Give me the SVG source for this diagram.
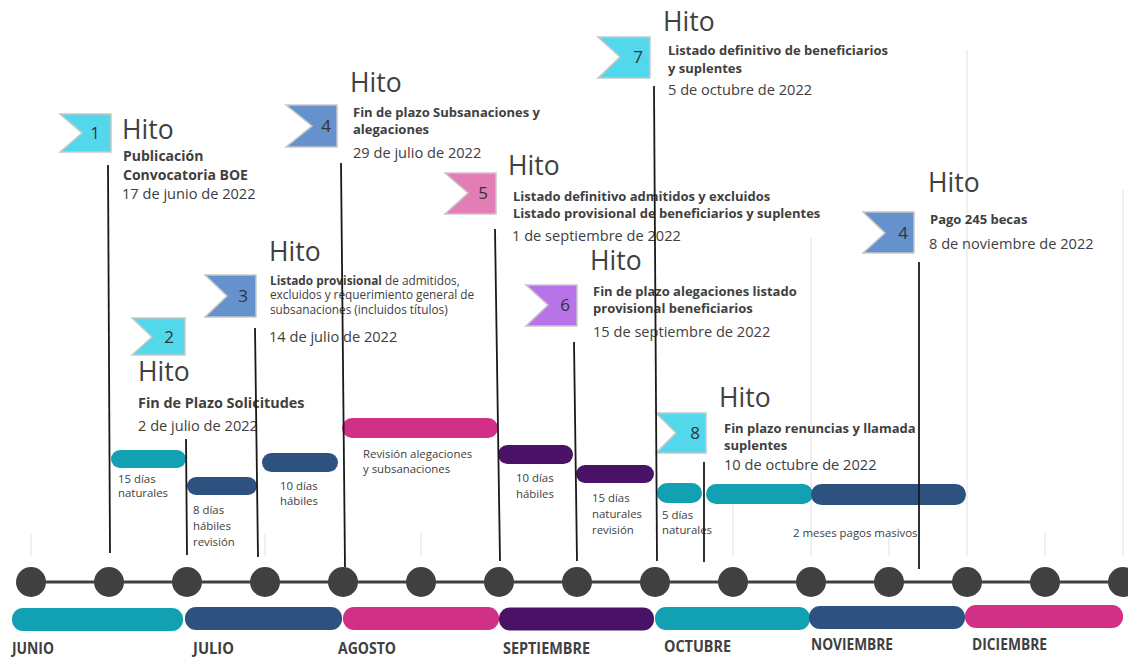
<svg xmlns="http://www.w3.org/2000/svg" width="1128" height="658" viewBox="0 0 1128 658">
<style>
text{font-family:"Open Sans","Liberation Sans",sans-serif;fill:#404040}
.hito{font-size:26.5px}
.tt{font-size:13px;font-weight:bold}
.dt{font-size:14.6px}
.num{font-size:17px;text-anchor:middle;fill:#333}
.dsc{font-size:11.8px}
.dur{font-size:11.4px}
.mon{font-size:16px;font-weight:bold}
.flag{stroke:#c8c8c8;stroke-width:1.5}
.cyan{fill:#53d8eb}.blue{fill:#6591cd}.pink{fill:#e27db6}.lav{fill:#b873e8}
.teal{fill:#12a1b3}.navy{fill:#2d5280}.mag{fill:#d22f87}.purp{fill:#4a1267}
.grid{stroke:#e6e6e6;stroke-width:1.2}
.conn{stroke:#1a1a1a;stroke-width:1.8}
.dot{fill:#404040}
</style>
<g id="grid">
<line class="grid" x1="31" y1="533" x2="31" y2="556"/>
<line class="grid" x1="265" y1="533" x2="265" y2="556"/>
<line class="grid" x1="421" y1="533" x2="421" y2="556"/>
<line class="grid" x1="733" y1="505" x2="733" y2="556"/>
<line class="grid" x1="811" y1="238" x2="811" y2="556"/>
<line class="grid" x1="889" y1="533" x2="889" y2="556"/>
<line class="grid" x1="967" y1="50" x2="967" y2="556"/>
<line class="grid" x1="1045" y1="533" x2="1045" y2="556"/>
<line class="grid" x1="1123" y1="190" x2="1123" y2="556"/>
</g>
<g id="timeline">
<line x1="31" y1="582" x2="1128" y2="582" stroke="#404040" stroke-width="3"/>
<circle class="dot" cx="31" cy="582" r="15"/>
<circle class="dot" cx="109" cy="582" r="15"/>
<circle class="dot" cx="187" cy="582" r="15"/>
<circle class="dot" cx="265" cy="582" r="15"/>
<circle class="dot" cx="343" cy="582" r="15"/>
<circle class="dot" cx="421" cy="582" r="15"/>
<circle class="dot" cx="499" cy="582" r="15"/>
<circle class="dot" cx="577" cy="582" r="15"/>
<circle class="dot" cx="655" cy="582" r="15"/>
<circle class="dot" cx="733" cy="582" r="15"/>
<circle class="dot" cx="811" cy="582" r="15"/>
<circle class="dot" cx="889" cy="582" r="15"/>
<circle class="dot" cx="967" cy="582" r="15"/>
<circle class="dot" cx="1045" cy="582" r="15"/>
<circle class="dot" cx="1123" cy="582" r="15"/>
</g>
<g id="months">
<rect class="teal" x="12" y="608" width="171" height="23" rx="11"/>
<rect class="navy" x="185" y="607" width="157" height="23" rx="11"/>
<rect class="mag" x="343" y="607" width="156" height="23" rx="11"/>
<rect class="purp" x="499" y="607.5" width="155" height="23" rx="11"/>
<rect class="teal" x="655" y="607" width="155" height="23" rx="11"/>
<rect class="navy" x="809" y="606" width="156" height="23" rx="11"/>
<rect class="mag" x="965" y="605" width="158" height="23" rx="11"/>
<text class="mon" x="12" y="654" textLength="42" lengthAdjust="spacingAndGlyphs">JUNIO</text>
<text class="mon" x="193" y="654" textLength="41" lengthAdjust="spacingAndGlyphs">JULIO</text>
<text class="mon" x="338" y="654" textLength="58" lengthAdjust="spacingAndGlyphs">AGOSTO</text>
<text class="mon" x="503" y="654" textLength="87" lengthAdjust="spacingAndGlyphs">SEPTIEMBRE</text>
<text class="mon" x="664" y="652" textLength="67" lengthAdjust="spacingAndGlyphs">OCTUBRE</text>
<text class="mon" x="811" y="650" textLength="82" lengthAdjust="spacingAndGlyphs">NOVIEMBRE</text>
<text class="mon" x="972" y="650" textLength="75" lengthAdjust="spacingAndGlyphs">DICIEMBRE</text>
</g>
<g id="durations">
<rect class="teal" x="111" y="450" width="75" height="18" rx="9"/>
<text class="dur" x="118" y="483">15 días</text>
<text class="dur" x="118" y="497">naturales</text>
<rect class="navy" x="187" y="477" width="70" height="18" rx="9"/>
<text class="dur" x="193" y="514">8 días</text>
<text class="dur" x="193" y="530">hábiles</text>
<text class="dur" x="193" y="546">revisión</text>
<rect class="navy" x="262" y="453" width="76" height="19" rx="9.5"/>
<text class="dur" x="280" y="490">10 días</text>
<text class="dur" x="280" y="505">hábiles</text>
<rect class="mag" x="342" y="418" width="156" height="20" rx="10"/>
<text class="dur" x="363" y="458">Revisión alegaciones</text>
<text class="dur" x="363" y="473">y subsanaciones</text>
<rect class="purp" x="498" y="445" width="75" height="19" rx="9.5"/>
<text class="dur" x="516" y="482">10 días</text>
<text class="dur" x="516" y="498">hábiles</text>
<rect class="purp" x="576" y="465" width="78" height="18" rx="9"/>
<text class="dur" x="592" y="502">15 días</text>
<text class="dur" x="592" y="518">naturales</text>
<text class="dur" x="592" y="534">revisión</text>
<rect class="teal" x="657" y="483" width="45" height="20" rx="10"/>
<text class="dur" x="662" y="519">5 días</text>
<text class="dur" x="662" y="534">naturales</text>
<rect class="teal" x="706" y="484" width="107" height="20" rx="10"/>
<rect class="navy" x="811" y="484" width="155" height="21" rx="10.5"/>
<text class="dur" x="793" y="537">2 meses pagos masivos</text>
</g>
<g id="hito1">
<polygon class="flag cyan" points="60,114 111,114 111,152 60,152 82,133"/>
<text class="num" x="95" y="139">1</text>
<text class="hito" x="122" y="139">Hito</text>
<text class="tt" x="123" y="161" style="font-size:14px">Publicación</text>
<text class="tt" x="123" y="180" style="font-size:14px">Convocatoria BOE</text>
<text class="dt" x="122" y="199">17 de junio de 2022</text>
</g>
<g id="hito2">
<polygon class="flag cyan" points="132,318 185,318 185,355 132,355 152,337"/>
<text class="num" x="169" y="343">2</text>
<text class="hito" x="138" y="381">Hito</text>
<text class="tt" x="138" y="408" style="font-size:14.4px">Fin de Plazo Solicitudes</text>
<text class="dt" x="138" y="431">2 de julio de 2022</text>
</g>
<g id="hito3">
<polygon class="flag blue" points="205,275 256,275 256,317 205,317 227,296"/>
<text class="num" x="243" y="302">3</text>
<text class="hito" x="269" y="261">Hito</text>
<text class="dsc" x="270" y="285"><tspan font-weight="bold">Listado provisional</tspan> de admitidos,</text>
<text class="dsc" x="270" y="299">excluidos y requerimiento general de</text>
<text class="dsc" x="270" y="314">subsanaciones (incluidos títulos)</text>
<text class="dt" x="269" y="342">14 de julio de 2022</text>
</g>
<g id="hito4a">
<polygon class="flag blue" points="286,105 337,105 337,147 286,147 312,126"/>
<text class="num" x="326" y="132">4</text>
<text class="hito" x="350" y="92">Hito</text>
<text class="tt" x="353" y="117">Fin de plazo Subsanaciones y</text>
<text class="tt" x="353" y="134">alegaciones</text>
<text class="dt" x="353" y="158">29 de julio de 2022</text>
</g>
<g id="hito5">
<polygon class="flag pink" points="445,173 496,173 496,214 445,214 468,193"/>
<text class="num" x="483" y="199">5</text>
<text class="hito" x="508" y="175">Hito</text>
<text class="tt" x="513" y="201">Listado definitivo admitidos y excluidos</text>
<text class="tt" x="513" y="218">Listado provisional de beneficiarios y suplentes</text>
<text class="dt" x="512" y="241">1 de septiembre de 2022</text>
</g>
<g id="hito6">
<polygon class="flag lav" points="526,285 577,285 577,326 526,326 548,305"/>
<text class="num" x="565" y="311">6</text>
<text class="hito" x="590" y="270">Hito</text>
<text class="tt" x="593" y="296">Fin de plazo alegaciones listado</text>
<text class="tt" x="593" y="313">provisional beneficiarios</text>
<text class="dt" x="593" y="337">15 de septiembre de 2022</text>
</g>
<g id="hito7">
<polygon class="flag cyan" points="598,37 650,37 650,78 598,78 620,57"/>
<text class="num" x="638" y="63">7</text>
<text class="hito" x="663" y="31">Hito</text>
<text class="tt" x="668" y="55">Listado definitivo de beneficiarios</text>
<text class="tt" x="668" y="73">y suplentes</text>
<text class="dt" x="668" y="95">5 de octubre de 2022</text>
</g>
<g id="hito8">
<polygon class="flag cyan" points="656,413 706,413 706,453 656,453 676,433"/>
<text class="num" x="695" y="439">8</text>
<text class="hito" x="719" y="407">Hito</text>
<text class="tt" x="724" y="433">Fin plazo renuncias y llamada</text>
<text class="tt" x="724" y="450">suplentes</text>
<text class="dt" x="724" y="470">10 de octubre de 2022</text>
</g>
<g id="hito4b">
<polygon class="flag blue" points="863,212 914,212 914,253 863,253 885,233"/>
<text class="num" x="903" y="239">4</text>
<text class="hito" x="928" y="192">Hito</text>
<text class="tt" x="930" y="224">Pago 245 becas</text>
<text class="dt" x="929" y="249">8 de noviembre de 2022</text>
</g>
<g id="connectors">
<line class="conn" x1="108" y1="165" x2="110" y2="553"/>
<line class="conn" x1="186" y1="439" x2="187" y2="555"/>
<line class="conn" x1="255" y1="328" x2="258" y2="557"/>
<line class="conn" x1="341" y1="163" x2="345" y2="567"/>
<line class="conn" x1="495" y1="229" x2="500" y2="561"/>
<line class="conn" x1="574" y1="342" x2="577" y2="561"/>
<line class="conn" x1="654" y1="86" x2="657" y2="561"/>
<line class="conn" x1="704" y1="462" x2="704" y2="562"/>
<line class="conn" x1="919" y1="262" x2="919" y2="569"/>
</g>
</svg>
